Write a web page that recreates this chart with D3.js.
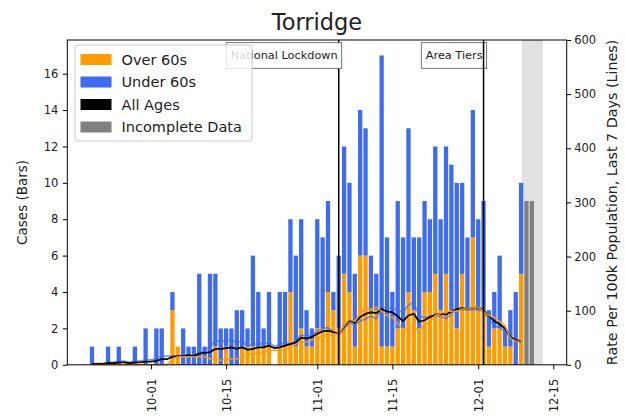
<!DOCTYPE html>
<html><head><meta charset="utf-8">
<script src="https://cdn.jsdelivr.net/npm/d3@7"></script>
<style>
html,body{margin:0;padding:0;background:#fff;}
svg text{font-family:"DejaVu Sans",sans-serif;fill:#222;}
</style></head>
<body><svg id="c" width="625" height="418"></svg>
<script>
// ---- data ----
const dates = [
"2020-09-20","2020-09-21","2020-09-22","2020-09-23","2020-09-24","2020-09-25","2020-09-26","2020-09-27","2020-09-28","2020-09-29","2020-09-30",
"2020-10-01","2020-10-02","2020-10-03","2020-10-04","2020-10-05","2020-10-06","2020-10-07","2020-10-08","2020-10-09","2020-10-10",
"2020-10-11","2020-10-12","2020-10-13","2020-10-14","2020-10-15","2020-10-16","2020-10-17","2020-10-18","2020-10-19","2020-10-20",
"2020-10-21","2020-10-22","2020-10-23","2020-10-24","2020-10-25","2020-10-26","2020-10-27","2020-10-28","2020-10-29","2020-10-30","2020-10-31",
"2020-11-01","2020-11-02","2020-11-03","2020-11-04","2020-11-05","2020-11-06","2020-11-07","2020-11-08","2020-11-09","2020-11-10",
"2020-11-11","2020-11-12","2020-11-13","2020-11-14","2020-11-15","2020-11-16","2020-11-17","2020-11-18","2020-11-19","2020-11-20",
"2020-11-21","2020-11-22","2020-11-23","2020-11-24","2020-11-25","2020-11-26","2020-11-27","2020-11-28","2020-11-29","2020-11-30",
"2020-12-01","2020-12-02","2020-12-03","2020-12-04","2020-12-05","2020-12-06","2020-12-07","2020-12-08","2020-12-09"];
const over60 = [
0,0,0,0,0,0,0,0,0,0,0,
0,0,0,0,3,1,0,0,0,0,
0,0,1,0,1,0,0,1,1,1,
1,1,1,0,1,1,4,1,2,1,1,
2,2,4,3,2,5,4,1,6,6,
3,3,1,1,1,2,2,4,3,2,
4,4,5,3,5,3,2,5,3,7,
3,3,1,2,2,1,1,0,5];
const under60 = [
1,0,0,1,0,1,0,0,1,0,2,
0,2,2,0,1,0,2,1,1,5,
1,5,4,2,1,2,3,2,1,5,
3,1,3,0,3,3,4,5,6,2,1,
6,5,5,1,4,7,6,4,8,7,
3,2,16,6,3,7,5,9,4,5,
5,4,7,5,7,8,8,5,4,7,
5,6,2,2,4,1,2,4,5];
const incompleteDates = ["2020-12-10","2020-12-11"];
const incompleteCases = [9,9];
const allAgesRate = [
1.5,1.5,1.5,2.9,2.9,4.4,4.4,2.9,4.4,4.4,5.9,
5.9,7.4,10.3,10.3,14.7,16.2,16.2,17.6,16.2,20.6,
22.1,23.5,29.4,29.4,30.9,32.3,29.4,32.3,27.9,29.4,
32.3,32.3,35.3,30.9,32.3,35.3,38.2,41.2,50.0,48.5,51.4,
57.3,61.7,63.2,60.3,57.3,70.6,82.3,77.9,88.2,94.1,
97.0,95.5,102.9,98.5,97.0,89.7,80.8,91.1,94.1,79.4,
82.3,88.2,92.6,94.1,92.6,98.5,102.9,104.4,102.9,105.8,
105.8,101.4,89.7,80.8,75.0,67.6,51.4,45.6,42.0];
const over60Rate = [
0,0,0,0,0,0,0,0,0,0,0,
0,0,0,0,11,15,15,15,15,15,
15,11,11,8,11,11,11,15,19,19,
23,23,27,27,27,27,34,38,42,42,46,
49,53,53,57,57,72,84,80,95,103,
103,106,99,91,88,76,65,68,68,65,
72,80,91,95,99,99,99,103,103,106,
106,99,91,88,80,72,49,44,41];
const under60Rate = [
2.3,2.3,2.3,4.6,4.6,6.9,6.9,4.6,6.9,6.9,9.2,
9.2,11.5,16.1,16.1,16.1,16.1,16.1,18.4,16.1,23,
25.3,34.5,43.7,43.7,43.7,46,41.4,43.7,34.5,36.8,
39.1,39.1,41.4,34.5,36.8,41.4,39.1,43.7,55.2,52.9,55.2,
62.1,66.7,69,59.8,55.2,66.7,78.2,73.6,80.5,85.1,
89.7,85.1,105.8,105.8,103.5,101.2,96.6,110.4,115,89.7,
87.4,89.7,89.7,89.7,85.1,94.3,101.2,101.2,101.2,101.2,
101.2,98.9,85.1,71.3,69,62.1,50.6,48.3,43];
const xTickLabels = ["10-01","10-15","11-01","11-15","12-01","12-15"];
const xTickDates = ["2020-10-01","2020-10-15","2020-11-01","2020-11-15","2020-12-01","2020-12-15"];
const leftTicks = [0,2,4,6,8,10,12,14,16];
const rightTicks = [0,100,200,300,400,500,600];
const events = [{date:"2020-11-05", label:"National Lockdown"},{date:"2020-12-02", label:"Area Tiers"}];
const incompleteBand = ["2020-12-09T04:00","2020-12-13T02:00"];
const legendItems = [["Over 60s","#ff9d00"],["Under 60s","#3d6cf2"],["All Ages","#000000"],["Incomplete Data","#808080"]];

// ---- layout ----
const C = {orange:"#ff9d00", blue:"#3d6cf2", grey:"#808080", band:"#dcdcdc"};
const M = {l:67.3, r:566.7, t:40, b:364.8};
const parse = d3.isoParse;
const svg = d3.select("#c");

const x = d3.scaleTime().domain([new Date(2020,8,15,9,36), new Date(2020,11,17,12,0)]).range([M.l, M.r]);
const yL = d3.scaleLinear().domain([0,17.85]).range([M.b, M.t]);
const yR = d3.scaleLinear().domain([0,600]).range([M.b, M.t]);
const dayPx = x(new Date(2020,9,2)) - x(new Date(2020,9,1));
const bw = dayPx*0.8;

const rows = dates.map((d,i)=>({d:parse(d), o:over60[i], u:under60[i], ra:allAgesRate[i], ro:over60Rate[i], ru:under60Rate[i]}));

const g = svg.append("g");
g.append("rect").attr("x", x(parse(incompleteBand[0]))).attr("y", M.t)
 .attr("width", x(parse(incompleteBand[1])) - x(parse(incompleteBand[0]))).attr("height", M.b-M.t)
 .attr("fill", C.band).attr("opacity",0.85);

g.selectAll(".bo").data(rows).join("rect").attr("x",d=>x(d.d)-bw/2).attr("width",bw)
 .attr("y",d=>yL(d.o)).attr("height",d=>yL(0)-yL(d.o)).attr("fill",C.orange);
g.selectAll(".bu").data(rows).join("rect").attr("x",d=>x(d.d)-bw/2).attr("width",bw)
 .attr("y",d=>yL(d.o+d.u)).attr("height",d=>yL(d.o)-yL(d.o+d.u)).attr("fill",C.blue);
g.selectAll(".bg").data(incompleteDates.map((d,i)=>({d:parse(d), v:incompleteCases[i]}))).join("rect")
 .attr("x",d=>x(d.d)-bw/2).attr("width",bw).attr("y",d=>yL(d.v)).attr("height",d=>yL(0)-yL(d.v)).attr("fill",C.grey);

const line = acc => d3.line().x(d=>x(d.d)).y(d=>yR(acc(d)));
g.append("path").datum(rows).attr("d",line(d=>d.ru)).attr("fill","none").attr("stroke",C.blue).attr("stroke-width",1.6).attr("opacity",0.7);
g.append("path").datum(rows).attr("d",line(d=>d.ra)).attr("fill","none").attr("stroke","#000").attr("stroke-width",1.8);
g.append("path").datum(rows).attr("d",line(d=>d.ro)).attr("fill","none").attr("stroke",C.orange).attr("stroke-width",1.6).attr("opacity",0.9);

events.forEach(ev=>{
  const ex = x(parse(ev.date));
  g.append("line").attr("x1",ex).attr("x2",ex).attr("y1",M.t).attr("y2",M.b).attr("stroke","#000").attr("stroke-width",1.5);
  const t = g.append("text").attr("x",ex-1).attr("y",55.5).attr("text-anchor","end").attr("dominant-baseline","central")
    .style("font-size","11.3px").text(ev.label);
  const bb = t.node().getBBox();
  g.insert("rect", "text").attr("x",bb.x-4.5).attr("y",42.7).attr("width",bb.width+8.5).attr("height",25.6)
    .attr("fill","#fff").attr("stroke","#555").attr("stroke-width",0.8);
});

svg.append("rect").attr("x",M.l).attr("y",M.t).attr("width",M.r-M.l).attr("height",M.b-M.t).attr("fill","none").attr("stroke","#000").attr("stroke-width",1);

const axL = svg.append("g").attr("transform",`translate(${M.l},0)`).call(d3.axisLeft(yL).tickValues(leftTicks).tickSize(4.5).tickPadding(4.5));
const axR = svg.append("g").attr("transform",`translate(${M.r},0)`).call(d3.axisRight(yR).tickValues(rightTicks).tickSize(4.5).tickPadding(3));
const axB = svg.append("g").attr("transform",`translate(0,${M.b})`).call(d3.axisBottom(x).tickValues(xTickDates.map(parse)).tickFormat((d,i)=>xTickLabels[i]).tickSize(4.5));
[axL,axR,axB].forEach(a=>{a.select(".domain").remove(); a.selectAll("text").style("font-size","11.5px").attr("fill","#222"); a.selectAll("line").attr("stroke","#000");});
axB.selectAll("text").attr("transform","rotate(-90)").attr("text-anchor","end").attr("dy","0.35em").attr("x",-14).attr("y",0);

svg.append("text").attr("transform",`translate(22,${(M.t+M.b)/2}) rotate(-90)`).attr("text-anchor","middle").attr("dominant-baseline","central").style("font-size","13.5px").text("Cases (Bars)");
svg.append("text").attr("transform",`translate(612,${(M.t+M.b)/2}) rotate(-90)`).attr("text-anchor","middle").attr("dominant-baseline","central").style("font-size","14.3px").text("Rate Per 100k Population, Last 7 Days (Lines)");
svg.append("text").attr("x",(M.l+M.r)/2).attr("y",30).attr("text-anchor","middle").style("font-size","22.5px").text("Torridge");

const lg = svg.append("g");
lg.append("rect").attr("x",75).attr("y",45).attr("width",177).attr("height",96).attr("rx",3)
  .attr("fill","#fff").attr("fill-opacity",0.82).attr("stroke","#cccccc").attr("stroke-width",1);
legendItems.forEach((it,i)=>{
  const cy = 59.5 + i*22.5;
  lg.append("rect").attr("x",80.5).attr("y",cy-5.5).attr("width",31).attr("height",11).attr("fill",it[1]);
  lg.append("text").attr("x",121.5).attr("y",cy).attr("dominant-baseline","central").style("font-size","14.5px").text(it[0]);
});
</script></body></html>
